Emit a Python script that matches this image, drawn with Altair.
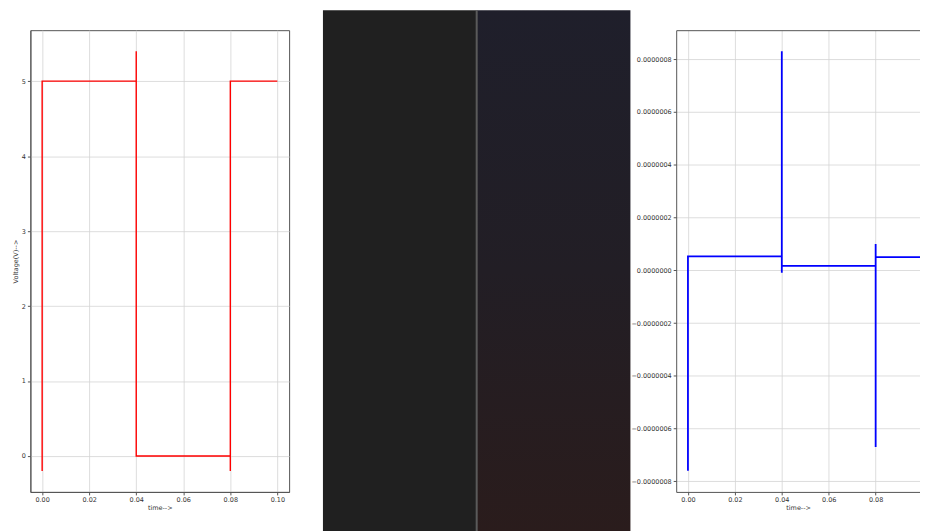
import altair as alt
import pandas as pd

# ---- data ----
red_time = [0.0, 0.0, 0.04, 0.04, 0.04, 0.08, 0.08, 0.08, 0.10]
red_volt = [-0.2, 5.0, 5.0, 5.4, 0.0, 0.0, -0.2, 5.0, 5.0]

blue_time = [0.0, 0.0, 0.04, 0.04, 0.04, 0.04, 0.08, 0.08, 0.08, 0.08, 0.10]
blue_val = [-7.6e-7, 0.53e-7, 0.53e-7, 8.3e-7, -0.09e-7, 0.17e-7, 0.17e-7,
            -6.7e-7, 1.0e-7, 0.5e-7, 0.5e-7]

x_ticks = [0.0, 0.02, 0.04, 0.06, 0.08, 0.10]
left_y_ticks = [0, 1, 2, 3, 4, 5]
right_y_ticks = [-8e-7, -6e-7, -4e-7, -2e-7, 0.0, 2e-7, 4e-7, 6e-7, 8e-7]

screen_panels = ["left", "right"]
screen_bottom = [0, 0]
screen_top = [1, 1]

red_df = pd.DataFrame({"i": range(len(red_time)), "t": red_time, "v": red_volt})
blue_df = pd.DataFrame({"i": range(len(blue_time)), "t": blue_time, "v": blue_val})
panel_df = pd.DataFrame({"panel": screen_panels, "lo": screen_bottom, "hi": screen_top})

FONT = "DejaVu Sans"
FS = 6.5
AX = dict(labelFont=FONT, labelFontSize=FS, labelColor="#333333",
          titleFont=FONT, titleFontSize=FS, titleColor="#333333", titleFontWeight="normal",
          tickSize=3, tickColor="#555555", domainColor="#555555",
          gridColor="#d4d4d4", gridWidth=0.8, labelPadding=2)

PLOT_H = 464

# ---- left plot ----
left = alt.Chart(red_df).mark_line(color="#ff0000", strokeWidth=1.4).encode(
    x=alt.X("t:Q", scale=alt.Scale(domain=[-0.005, 0.105], nice=False, zero=False),
            axis=alt.Axis(values=x_ticks, format=".2f", title="time-->", titlePadding=1,
                          **AX)),
    y=alt.Y("v:Q", scale=alt.Scale(domain=[-0.48, 5.68], nice=False, zero=False),
            axis=alt.Axis(values=left_y_ticks, format="d", title="Voltage(V)-->",
                          titlePadding=3, **AX)),
    order="i:Q",
).properties(width=260, height=PLOT_H,
             view=alt.ViewBackground(stroke="#555555", strokeWidth=1))

# ---- middle dark panel (screenshot region) ----
grad = alt.LinearGradient(
    gradient="linear",
    stops=[alt.GradientStop(color="#1f1f2b", offset=0),
           alt.GradientStop(color="#221e25", offset=0.5),
           alt.GradientStop(color="#2a1c1c", offset=1)],
    x1=0, x2=0, y1=0, y2=1)

band = alt.Scale(paddingInner=0, paddingOuter=0, domain=screen_panels)
mid_y_scale = alt.Scale(domain=[0, 1], range=[PLOT_H + 40, -20], nice=False, zero=False)
mx = alt.X("panel:N", scale=band, axis=None)
my = alt.Y("lo:Q", scale=mid_y_scale, axis=None)
my2 = alt.Y2("hi:Q")

mid_left = alt.Chart(panel_df).transform_filter(alt.datum.panel == "left").mark_rect(
    color="#202020").encode(x=mx, y=my, y2=my2)
mid_right = alt.Chart(panel_df).transform_filter(alt.datum.panel == "right").mark_rect(
    color=grad).encode(x=mx, y=my, y2=my2)
mid_div = alt.Chart(panel_df).transform_filter(alt.datum.panel == "right").mark_rule(
    color="#5a5a5a", strokeWidth=2).encode(
    x=alt.X("panel:N", bandPosition=0, scale=band, axis=None), y=my, y2=my2)
middle = alt.layer(mid_left, mid_right, mid_div).properties(
    width=309, height=PLOT_H, view=alt.ViewBackground(stroke=None))

# ---- right plot (cut off at the window edge) ----
rx_scale = alt.Scale(domain=[-0.005, 0.0989], nice=False, zero=False)
ry_scale = alt.Scale(domain=[-8.4e-7, 9.1e-7], nice=False, zero=False)
right_line = alt.Chart(blue_df).mark_line(color="#0000ff", strokeWidth=1.8, clip=True).encode(
    x=alt.X("t:Q", scale=rx_scale,
            axis=alt.Axis(values=x_ticks, format=".2f", title="time-->", titlePadding=1,
                          orient="bottom", **AX)),
    y=alt.Y("v:Q", scale=ry_scale,
            axis=alt.Axis(values=right_y_ticks, format=".7f", title=None, **AX)),
    order="i:Q",
)
right_top = alt.Chart(blue_df).mark_line(opacity=0, clip=True).encode(
    x=alt.X("t:Q", scale=rx_scale,
            axis=alt.Axis(orient="top", labels=False, ticks=False, grid=False, title=None,
                          domainColor="#555555")),
    y=alt.Y("v:Q", scale=ry_scale),
    order="i:Q",
)
right = alt.layer(right_line, right_top).resolve_axis(x="independent").properties(
    width=245, height=PLOT_H, view=alt.ViewBackground(stroke=None))

chart = alt.hconcat(alt.hconcat(left, middle, spacing=33), right, spacing=0).properties(
    padding={"left": 3.5, "top": 0, "right": 0, "bottom": 0}
).configure(background="white")

chart.save("out.html", embed_options={"renderer": "svg", "actions": False})
